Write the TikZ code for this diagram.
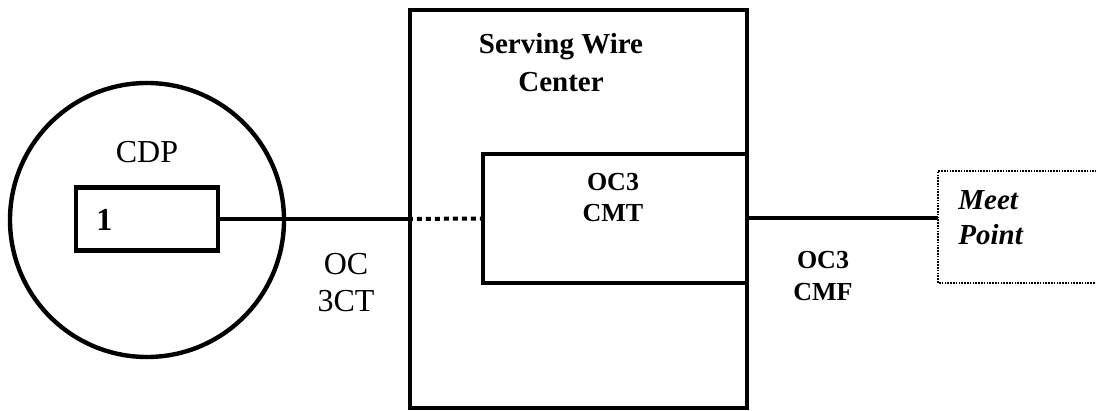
\documentclass[tikz,border=0pt]{standalone}
\usepackage{fontspec}
\setmainfont{Liberation Serif}
\usetikzlibrary{positioning}
\tikzset{
	heavy/.style={draw,line width=2.2pt},
	wire/.style={line width=2pt},
	dotwire/.style={line width=2pt,dash pattern=on 2.5pt off 2pt},
	meetline/.style={line width=0.8pt,dash pattern=on 0.8pt off 0.6pt},
	plaintxt/.style={inner sep=0pt,align=center,font=\fontsize{16pt}{18.5pt}\selectfont},
	boldtxt/.style={inner sep=0pt,align=center,font=\fontsize{13pt}{15.5pt}\selectfont\bfseries}
}
\begin{document}
\begin{tikzpicture}[x=0.5pt,y=-0.5pt,line join=miter]
	\useasboundingbox (0,0) rectangle (1096,411);
	% CDP side
	\node[heavy,circle,minimum size=137pt,inner sep=0pt] (cdp) at (147,220) {};
	\node[plaintxt] (cdplbl) at (147,152) {CDP};
	\node[heavy,rectangle,minimum width=71pt,minimum height=31.5pt,inner sep=0pt] (port) at (147,219) {};
	\node[boldtxt,anchor=west,font=\fontsize{16pt}{18pt}\selectfont\bfseries] (portnum) at (96,220) {1};
	% serving wire center
	\node[heavy,rectangle,minimum width=168.5pt,minimum height=199pt,inner sep=0pt] (swc) at (578.5,209) {};
	\node[boldtxt,font=\fontsize{14.5pt}{19pt}\selectfont\bfseries] (swclbl) at (561,63) {Serving Wire\\Center};
	\node[heavy,rectangle,minimum width=132pt,minimum height=64.5pt,inner sep=0pt] (cmt) at (615,218.5) {};
	\node[boldtxt] (cmtlbl) at (613,198) {OC3\\CMT};
	% meet point, open to the right
	\node[minimum width=79pt,minimum height=55.5pt,inner sep=0pt,anchor=north west] (meet) at (938,171) {};
	\draw[meetline] (meet.north east) -- (meet.north west) -- (meet.south west) -- (meet.south east);
	\node[inner sep=0pt,align=left,anchor=west,font=\fontsize{14.5pt}{17.5pt}\selectfont\bfseries\itshape] (meetlbl) at (958,218) {Meet\\Point};
	% connectors
	\coordinate (entry) at (port.east -| swc.west);
	\draw[wire] (port.east) -- (entry);
	\draw[dotwire] (entry) -- (cmt.west);
	\draw[wire] (cmt.east) -- (cmt.east -| meet.west);
	% facility labels
	\node[plaintxt] (occt) at (346,283) {OC\\3CT};
	\node[boldtxt,font=\fontsize{13pt}{16pt}\selectfont\bfseries] (cmf) at (823,276) {OC3\\CMF};
\end{tikzpicture}
\end{document}
